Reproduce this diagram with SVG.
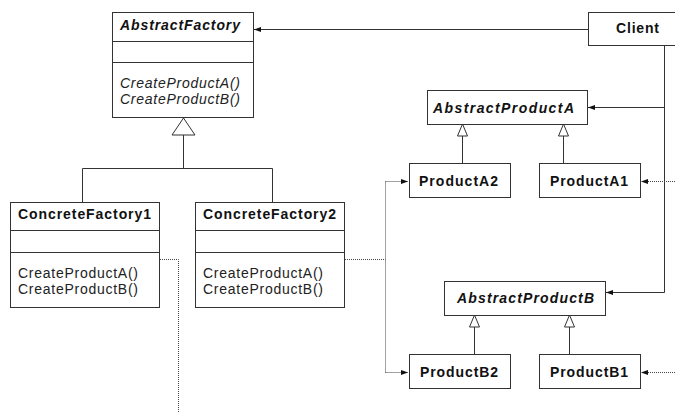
<svg xmlns="http://www.w3.org/2000/svg" width="675" height="413" viewBox="0 0 675 413">
  <style>
    .box { fill: #fff; stroke: #333; stroke-width: 1; }
    .sep { stroke: #333; stroke-width: 1; fill: none; }
    .title { font-family: "Liberation Sans", Arial, sans-serif; font-size: 14px; font-weight: bold; fill: #111; }
    .abs { font-style: italic; }
    .op { font-family: "Liberation Sans", Arial, sans-serif; font-size: 14px; fill: #222; }
    .opi { font-style: italic; }
    .line { stroke: #333; stroke-width: 1; fill: none; }
    .dot { stroke: #444; stroke-width: 1; fill: none; stroke-dasharray: 1 1; }
    .tri { fill: #fff; stroke: #333; stroke-width: 1; }
  </style>
  <defs>
    <marker id="arrow" viewBox="0 0 7 6" refX="7" refY="3" markerWidth="7" markerHeight="6" markerUnits="userSpaceOnUse" orient="auto">
      <path d="M0,0.5 L7,3 L0,5.5 Z" fill="#111"/>
    </marker>
  </defs>

  <!-- connectors -->
  <g id="connectors">
    <!-- Client associations -->
    <path class="line" d="M588,29.5 H254" marker-end="url(#arrow)"/>
    <path class="line" d="M664.5,45 V292.5 H606" marker-end="url(#arrow)"/>
    <path class="line" d="M664.5,107.5 H588" marker-end="url(#arrow)"/>

    <!-- factory inheritance -->
    <path class="line" d="M183.5,135 V168.5 M82.5,168.5 H272.5 M82.5,168.5 V202 M272.5,168.5 V202"/>
    <path class="tri" d="M183.5,118 L195,135 L172,135 Z"/>

    <!-- product A inheritance -->
    <path class="line" d="M462.5,136 V163 M563.5,136 V163"/>
    <path class="tri" d="M462.5,124 L467.5,136 L457.5,136 Z"/>
    <path class="tri" d="M563.5,124 L568.5,136 L558.5,136 Z"/>

    <!-- product B inheritance -->
    <path class="line" d="M474.5,327 V354 M569.5,327 V354"/>
    <path class="tri" d="M474.5,315 L479.5,327 L469.5,327 Z"/>
    <path class="tri" d="M569.5,315 L574.5,327 L564.5,327 Z"/>

    <!-- creation dependencies -->
    <path class="dot" d="M160,259.5 H178.5 V413"/>
    <path class="dot" d="M345,259.5 H385.5"/>
    <path class="dot" d="M385.5,181.5 V372.5"/>
    <path class="dot" d="M385.5,181.5 H408" marker-end="url(#arrow)"/>
    <path class="dot" d="M385.5,372.5 H408" marker-end="url(#arrow)"/>
    <path class="dot" d="M675,181.5 H641" marker-end="url(#arrow)"/>
    <path class="dot" d="M675,372.5 H641" marker-end="url(#arrow)"/>
  </g>

  <g id="AbstractFactory">
    <rect class="box" x="112.5" y="12.5" width="141" height="105"/>
    <path class="sep" d="M112.5,41.5 H253.5 M112.5,62.5 H253.5"/>
    <text class="title abs" x="120" y="30" textLength="120" lengthAdjust="spacing">AbstractFactory</text>
    <text class="op opi" x="120" y="88" textLength="120" lengthAdjust="spacing">CreateProductA()</text>
    <text class="op opi" x="120" y="104" textLength="120" lengthAdjust="spacing">CreateProductB()</text>
  </g>

  <g id="Client">
    <rect class="box" x="588.5" y="12.5" width="100" height="33"/>
    <text class="title" x="616" y="33" textLength="43" lengthAdjust="spacing">Client</text>
  </g>

  <g id="ConcreteFactory1">
    <rect class="box" x="10.5" y="202.5" width="149" height="105"/>
    <path class="sep" d="M10.5,230.5 H159.5 M10.5,252.5 H159.5"/>
    <text class="title" x="18" y="219" textLength="133" lengthAdjust="spacing">ConcreteFactory1</text>
    <text class="op" x="18" y="278" textLength="120" lengthAdjust="spacing">CreateProductA()</text>
    <text class="op" x="18" y="294" textLength="120" lengthAdjust="spacing">CreateProductB()</text>
  </g>

  <g id="ConcreteFactory2">
    <rect class="box" x="195.5" y="202.5" width="149" height="105"/>
    <path class="sep" d="M195.5,230.5 H344.5 M195.5,252.5 H344.5"/>
    <text class="title" x="203" y="219" textLength="133" lengthAdjust="spacing">ConcreteFactory2</text>
    <text class="op" x="203" y="278" textLength="120" lengthAdjust="spacing">CreateProductA()</text>
    <text class="op" x="203" y="294" textLength="120" lengthAdjust="spacing">CreateProductB()</text>
  </g>

  <g id="AbstractProductA">
    <rect class="box" x="427.5" y="90.5" width="160" height="34"/>
    <text class="title abs" x="433" y="113" textLength="141" lengthAdjust="spacing">AbstractProductA</text>
  </g>

  <g id="ProductA2">
    <rect class="box" x="409.5" y="163.5" width="101" height="34"/>
    <text class="title" x="419" y="186" textLength="79" lengthAdjust="spacing">ProductA2</text>
  </g>

  <g id="ProductA1">
    <rect class="box" x="539.5" y="163.5" width="101" height="34"/>
    <text class="title" x="550" y="186" textLength="78" lengthAdjust="spacing">ProductA1</text>
  </g>

  <g id="AbstractProductB">
    <rect class="box" x="444.5" y="281.5" width="161" height="34"/>
    <text class="title abs" x="457" y="303" textLength="137" lengthAdjust="spacing">AbstractProductB</text>
  </g>

  <g id="ProductB2">
    <rect class="box" x="409.5" y="354.5" width="101" height="34"/>
    <text class="title" x="420" y="377" textLength="78" lengthAdjust="spacing">ProductB2</text>
  </g>

  <g id="ProductB1">
    <rect class="box" x="539.5" y="354.5" width="101" height="34"/>
    <text class="title" x="550" y="377" textLength="78" lengthAdjust="spacing">ProductB1</text>
  </g>
</svg>
